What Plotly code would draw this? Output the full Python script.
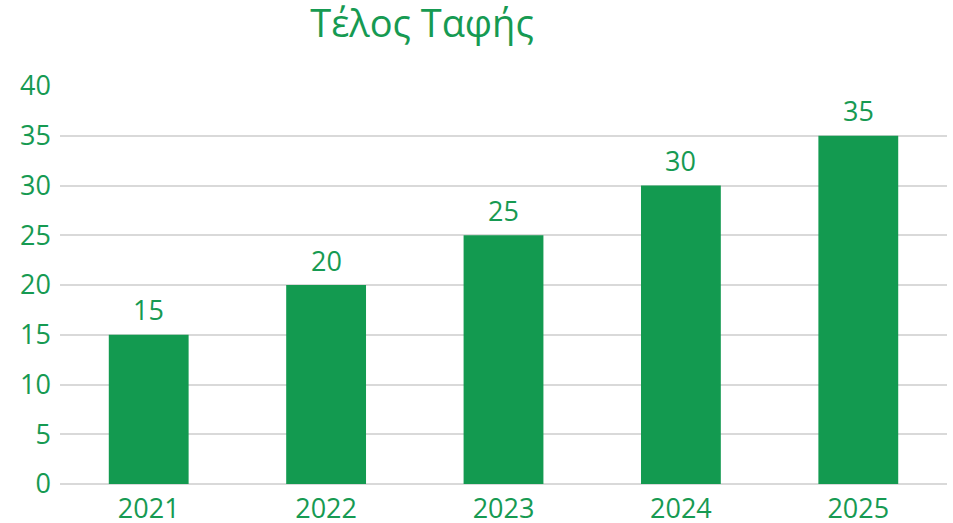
import plotly.graph_objects as go

years = ["2021", "2022", "2023", "2024", "2025"]
values = [15, 20, 25, 30, 35]
y_ticks = [0, 5, 10, 15, 20, 25, 30, 35, 40]
title_text = "Τέλος Ταφής"

GREEN = "#139A50"
TEXT = "#169A52"
FONT = "Open Sans"

fig = go.Figure(go.Bar(
    x=years, y=values,
    marker=dict(color=GREEN, line=dict(width=0)),
    hoverinfo="skip",
))

for i, v in enumerate(values):
    fig.add_annotation(x=i, y=v, text=str(v), showarrow=False, yanchor="middle",
                       yshift=25, font=dict(family=FONT, size=27, color=TEXT))

fig.update_layout(
    width=953, height=523,
    margin=dict(l=60, r=6, t=86, b=39),
    paper_bgcolor="white", plot_bgcolor="white",
    bargap=0.55,
    showlegend=False,
    title=dict(text=title_text, x=422/953, xanchor="center", xref="container",
               y=1 - 24/523, yanchor="middle", yref="container",
               font=dict(family=FONT, size=38, color=TEXT)),
    xaxis=dict(type="category", showgrid=False, zeroline=False, showline=False,
               automargin=False, ticks="", ticklabelstandoff=6,
               tickfont=dict(family=FONT, size=27, color=TEXT)),
    yaxis=dict(range=[0, 40], tickvals=y_ticks, showgrid=True, gridcolor="#D9D9D9",
               gridwidth=1.5, zeroline=True, zerolinecolor="#D9D9D9", zerolinewidth=1.5,
               showline=False, ticks="", ticklabelstandoff=8, automargin=False,
               tickfont=dict(family=FONT, size=27, color=TEXT)),
)

fig.write_html("out.html", config={"displayModeBar": False},
               post_script="document.body.style.margin='0';")
